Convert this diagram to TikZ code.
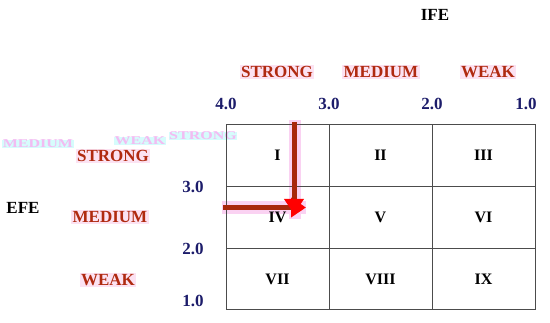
\documentclass[tikz,border=0pt]{standalone}
\usepackage{fontspec}
\setmainfont{Liberation Serif}
\usetikzlibrary{arrows.meta}
\definecolor{lblred}{HTML}{B02A10}
\definecolor{lblbg}{HTML}{FCE2F2}
\definecolor{navy}{HTML}{1C1C6A}
\definecolor{shaft}{HTML}{A8280C}
\definecolor{halo}{HTML}{FAD2F2}
\definecolor{ghostfg}{HTML}{F2BCF2}
\definecolor{ghostbg}{HTML}{D6FCFC}
\tikzset{
  lbl/.style={font=\fontsize{17}{17}\selectfont\bfseries, text=lblred, fill=lblbg, inner sep=1.5pt},
  num/.style={font=\fontsize{17}{17}\selectfont\bfseries, text=navy, inner sep=0pt},
  axis/.style={font=\fontsize{17}{17}\selectfont\bfseries, text=black, inner sep=0pt},
  cell/.style={draw=black!70, line width=0.9pt, minimum width=103pt, minimum height=61.7pt, inner sep=0pt, font=\fontsize{16}{16}\selectfont\bfseries},
  ghost/.style={font=\fontsize{16}{16}\selectfont\bfseries, text=ghostfg, fill=ghostbg, inner sep=0.5pt, yscale=0.75},
  bigarrow/.style={draw=shaft, line width=5pt, -{Triangle[length=15pt,width=19pt,fill=red,color=red]}}
}
\begin{document}
\begin{tikzpicture}[x=1pt,y=-1pt]
\useasboundingbox (0,0) rectangle (550,323);
% ghost texts
\node[ghost] (g1) at (38,144) {MEDIUM};
\node[ghost] (g3) at (140,141) {WEAK};
\node[ghost] (g5) at (203,136) {STRONG};
% axis titles
\node[axis] (ife) at (435,15) {IFE};
\node[axis] (efe) at (23,208) {EFE};
% top labels
\node[lbl] (ts) at (277,72) {STRONG};
\node[lbl] (tm) at (381,72) {MEDIUM};
\node[lbl] (tw) at (488,72) {WEAK};
% left labels
\node[lbl] (ls) at (113,156) {STRONG};
\node[lbl] (lm) at (110,217) {MEDIUM};
\node[lbl] (lw) at (108,280) {WEAK};
% top numbers
\node[num] (t4) at (226,104) {4.0};
\node[num] (t3) at (329,104) {3.0};
\node[num] (t2) at (432,104) {2.0};
\node[num] (t1) at (526,104) {1.0};
% left numbers
\node[num] (l3) at (193,187) {3.0};
\node[num] (l2) at (193,249) {2.0};
\node[num] (l1) at (193,301) {1.0};
% halos behind arrows
\fill[halo] (289,120) rectangle (301,219);
\fill[halo] (222,201) rectangle (306,214);
% grid cells
\node[cell] (c1) at (277.5,155.5) {I};
\node[cell] (c2) at (380.5,155.5) {II};
\node[cell] (c3) at (483.5,155.5) {III};
\node[cell] (c4) at (277.5,217.2) {IV};
\node[cell] (c5) at (380.5,217.2) {V};
\node[cell] (c6) at (483.5,217.2) {VI};
\node[cell] (c7) at (277.5,278.9) {VII};
\node[cell] (c8) at (380.5,278.9) {VIII};
\node[cell] (c9) at (483.5,278.9) {IX};
% arrows
\coordinate (va) at (294,122);
\coordinate (vb) at (294,214);
\coordinate (ha) at (223,207.5);
\coordinate (hb) at (306,207.5);
\draw[bigarrow] (ha) -- (hb);
\draw[bigarrow] (va) -- (vb);
\end{tikzpicture}
\end{document}
